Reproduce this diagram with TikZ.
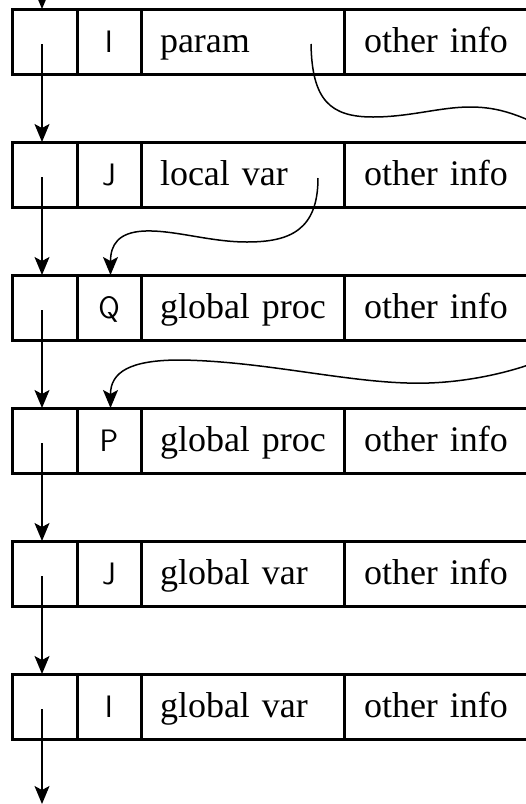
\documentclass[tikz,border=0pt]{standalone}
\usepackage{fontspec}
\setmainfont{Liberation Serif}
\usetikzlibrary{arrows.meta,calc}
\tikzset{
  cell/.style={draw, line width=3pt, rectangle, anchor=north west, minimum height=65pt, inner sep=0pt, outer sep=0pt},
  ptrcell/.style={cell, minimum width=65pt},
  namecell/.style={cell, minimum width=64pt, font=\fontspec{Latin Modern Sans}\fontsize{31}{36}\selectfont, text height=28pt, text depth=6pt},
  kindcell/.style={cell, text width=165pt, inner xsep=19pt, align=left, font=\fontsize{36}{42}\selectfont, text height=28pt, text depth=6pt},
  infocell/.style={cell, text width=182pt, inner xsep=20pt, align=left, font=\fontsize{36}{42}\selectfont, text height=28pt, text depth=6pt},
  link/.style={line width=1.5pt, -{Stealth[length=18pt,width=15pt,inset=4pt]}},
}
\begin{document}
\begin{tikzpicture}[x=1pt,y=-1pt]
\useasboundingbox (0,0) rectangle (526,804);
\clip (0,0) rectangle (526,804);
\foreach \i/\nm/\kd in {1/I/param, 2/J/local var, 3/Q/global proc, 4/P/global proc, 5/J/global var, 6/I/global var}{
  \pgfmathsetmacro{\top}{9+133*(\i-1)}
  \node[ptrcell] (p\i) at (12,\top) {};
  \node[namecell] (n\i) at (77,\top) {\nm};
  \node[kindcell] (k\i) at (141,\top) {\mbox{\kd}};
  \node[infocell] (o\i) at (344,\top) {\mbox{other info}};
  \coordinate (s\i) at (42,\top+35);
}
% vertical chain
\coordinate (top0) at (42,-30);
\coordinate (bot) at (42,804);
\draw[link] (top0) -- (s1 |- p1.north);
\foreach \i/\j in {1/2,2/3,3/4,4/5,5/6}{
  \draw[link] (s\i) -- (s\i |- p\j.north);
}
\draw[link] (s6) -- (bot);
% curved links
\coordinate (c1s) at (311,44);
\coordinate (c1e) at (560,135);
\draw[line width=1.5pt] (c1s) .. controls (312,100) and (330,117) .. (373,117)
  .. controls (410,117) and (440,107) .. (470,107)
  .. controls (500,107) and (520,115) .. (c1e);
\coordinate (c2s) at (318,178);
\draw[link] (c2s) .. controls (318,230) and (290,242) .. (247,242)
  .. controls (210,242) and (175,230) .. (145,231)
  .. controls (118,232) and (110.5,245) .. ($(n3.north)+(1.5,0)$);
\coordinate (c3s) at (560,352);
\draw[link] (c3s) .. controls (520,372) and (460,385) .. (407,383)
  .. controls (340,381) and (260,361) .. (180,360)
  .. controls (130,360) and (110.5,372) .. ($(n4.north)+(1.5,0)$);
\end{tikzpicture}
\end{document}
